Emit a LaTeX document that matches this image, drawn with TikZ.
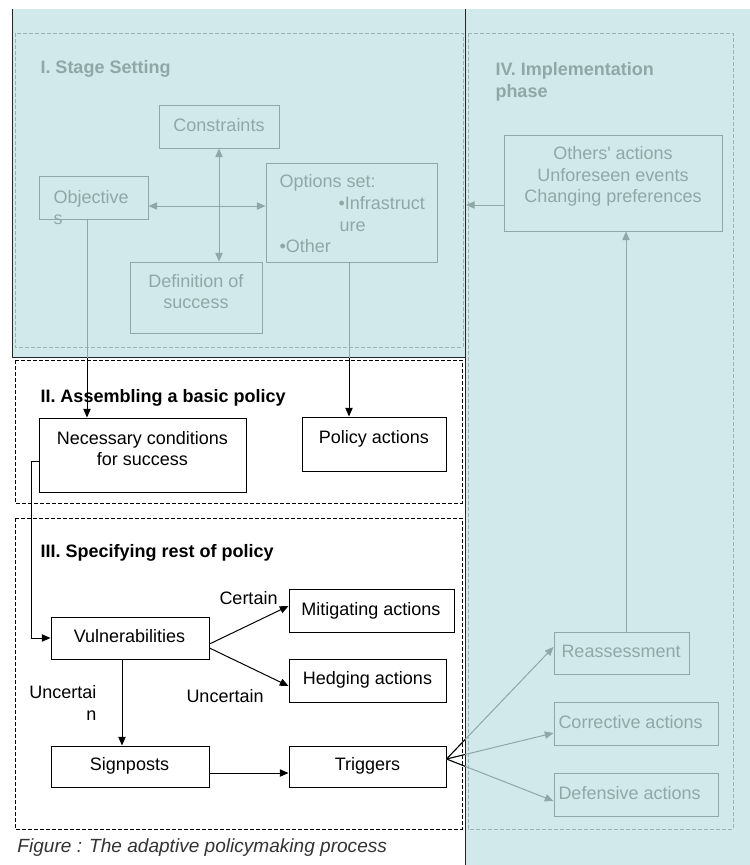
\documentclass[tikz,border=0pt]{standalone}
\usepackage{fontspec}
\setmainfont{Liberation Sans}
\usetikzlibrary{arrows.meta,fit}
\definecolor{teal1}{HTML}{D2E9EB}
\definecolor{gcol}{HTML}{8EA8A8}
\definecolor{dgcol}{HTML}{9DB4B4}
\begin{document}
\begin{tikzpicture}[x=0.75pt,y=-0.75pt, line width=0.75pt,
  every node/.style={font=\fontsize{13.5}{16}\selectfont, inner sep=0pt},
  hdr/.style={font=\fontsize{13.5}{16}\selectfont\bfseries},
  gbox/.style={draw=gcol, inner sep=0pt},
  bbox/.style={draw=black, inner sep=0pt},
  gt/.style={text=gcol, anchor=base},
  bt/.style={text=black, anchor=base},
  tip/.style={-{Triangle[length=6.5pt,width=5.5pt]}},
  dtip/.style={{Triangle[length=6.5pt,width=5.5pt]}-{Triangle[length=6.5pt,width=5.5pt]}},
  gdash/.style={draw=dgcol, dash pattern=on 3pt off 1.5pt},
  bdash/.style={draw=black, dash pattern=on 3pt off 1.5pt},
]
\useasboundingbox (0,0) rectangle (750,865);
% backgrounds
\fill[teal1] (12,9) rectangle (465,357);
\fill[teal1] (465,9) rectangle (750,865);
\draw[black!85] (12,9) -- (12,357) -- (465,357);
\draw[black!85] (465,9) -- (465,865);
% dashed phase frames
\draw[gdash] (15,33) rectangle (463,347);
\draw[gdash] (468,33) rectangle (733,829);
\draw[bdash] (15,360) rectangle (462,503);
\draw[bdash] (15,518) rectangle (462,829);

% boxes
\node[gbox, fit={(159,105) (279,148)}] (cons) {};
\node[gbox, fit={(39,176) (148,219)}] (obj) {};
\node[gbox, fit={(266,163) (437,262)}] (opt) {};
\node[gbox, fit={(130,262) (262,333)}] (def) {};
\node[bbox, fit={(39,418) (246,492)}] (nec) {};
\node[bbox, fit={(302,417) (446,471)}] (pol) {};
\node[bbox, fit={(51,617) (209,659)}] (vul) {};
\node[bbox, fit={(289,589) (454,632)}] (mit) {};
\node[bbox, fit={(289,659) (446,702)}] (hed) {};
\node[bbox, fit={(51,746) (209,787)}] (sig) {};
\node[bbox, fit={(289,746) (446,787)}] (tri) {};
\node[gbox, fit={(504,135) (722,231)}] (oth) {};
\node[gbox, fit={(554,632) (689,674)}] (rea) {};
\node[gbox, fit={(554,702) (718,745)}] (cor) {};
\node[gbox, fit={(554,773) (718,816)}] (dfn) {};

% texts, phase I
\node[gt, hdr, anchor=base west] (h1) at (40,73) {I. Stage Setting};
\node[gt] (tcons) at (219,131) {Constraints};
\node[gt, anchor=base west] (tobj1) at (53,203) {Objective};
\node[gt, anchor=base west] (tobj2) at (53,224) {s};
\node[gt, anchor=base west] (topt1) at (279,187) {Options set:};
\node[gt, anchor=base west] (topt2) at (338,209) {•Infrastruct};
\node[gt, anchor=base west] (topt3) at (339,231) {ure};
\node[gt, anchor=base west] (topt4) at (279,252) {•Other};
\node[gt] (tdef1) at (196,287) {Definition of};
\node[gt] (tdef2) at (196,308) {success};
% phase II
\node[bt, hdr, anchor=base west] (h2) at (40,402) {II. Assembling a basic policy};
\node[bt] (tnec1) at (142.5,444) {Necessary conditions};
\node[bt] (tnec2) at (142.5,465) {for success};
\node[bt] (tpol) at (374,443) {Policy actions};
% phase III
\node[bt, hdr, anchor=base west] (h3) at (40,557) {III. Specifying rest of policy};
\node[bt] (tvul) at (129.5,642) {Vulnerabilities};
\node[bt] (tmit) at (371,615) {Mitigating actions};
\node[bt] (thed) at (367.5,684) {Hedging actions};
\node[bt] (tsig) at (129.5,770) {Signposts};
\node[bt] (ttri) at (367.5,770) {Triggers};
\node[bt, anchor=base west] (lcer) at (219,604) {Certain};
\node[bt, anchor=base west] (lunc) at (186,702) {Uncertain};
\node[bt, anchor=base east] (lunc1) at (97,698) {Uncertai};
\node[bt, anchor=base east] (lunc2) at (97,720) {n};
% phase IV
\node[gt, hdr, anchor=base west] (h4a) at (495,75) {IV. Implementation};
\node[gt, hdr, anchor=base west] (h4b) at (495,97) {phase};
\node[gt] (toth1) at (613,159) {Others\textquotesingle\ actions};
\node[gt] (toth2) at (613,181) {Unforeseen events};
\node[gt] (toth3) at (613,202) {Changing preferences};
\node[gt, anchor=base west] (trea) at (561,657) {Reassessment};
\node[gt, anchor=base west] (tcor) at (558,728) {Corrective actions};
\node[gt, anchor=base west] (tdfn) at (558,799) {Defensive actions};
% caption
\node[anchor=base west, text=black!80, font=\fontsize{14.3}{16}\selectfont\itshape] (cap) at (17,852) {Figure : The adaptive policymaking process};

% connectors, phase I
\draw[gcol, dtip] (cons.south) -- (cons.south |- def.north);
\draw[gcol, dtip] (obj.east |- 0,206) -- (opt.west |- 0,206);
% I -> II (gray inside the teal area, black below)
\draw[tip] (obj.south -| 87,0) -- (nec.north -| 87,0);
\draw[tip] (opt.south -| 349,0) -- (pol.north -| 349,0);
\begin{scope}
  \clip (12,9) rectangle (465,357);
  \draw[gcol] (obj.south -| 87,0) -- (nec.north -| 87,0);
  \draw[gcol] (opt.south -| 349,0) -- (pol.north -| 349,0);
\end{scope}
% II -> III
\draw[tip] (nec.west |- 0,461) -- (31,461) -- (31,638) -- (vul.west |- 0,638);
% phase III
\draw[tip] (vul.east |- 0,644) -- (mit.west |- 0,606);
\draw[tip] (vul.east |- 0,648) -- (hed.west |- 0,686);
\draw[tip] (vul.south -| 122,0) -- (sig.north -| 122,0);
\draw[tip] (sig.east |- 0,773) -- (tri.west |- 0,773);
% triggers -> phase IV
\draw[gcol, tip] (tri.east |- 0,759) -- (rea.west |- 0,647);
\draw[gcol, tip] (tri.east |- 0,759) -- (cor.west |- 0,733);
\draw[gcol, tip] (tri.east |- 0,759) -- (dfn.west |- 0,801);
\begin{scope}
  \clip (0,0) rectangle (465,865);
  \draw[black] (tri.east |- 0,759) -- (rea.west |- 0,647);
  \draw[black] (tri.east |- 0,759) -- (cor.west |- 0,733);
  \draw[black] (tri.east |- 0,759) -- (dfn.west |- 0,801);
\end{scope}
% phase IV
\draw[gcol, tip] (rea.north -| 626,0) -- (oth.south -| 626,0);
\coordinate (oend) at (466,205);
\draw[gcol, tip] (oth.west |- oend) -- (oend);
\end{tikzpicture}
\end{document}
